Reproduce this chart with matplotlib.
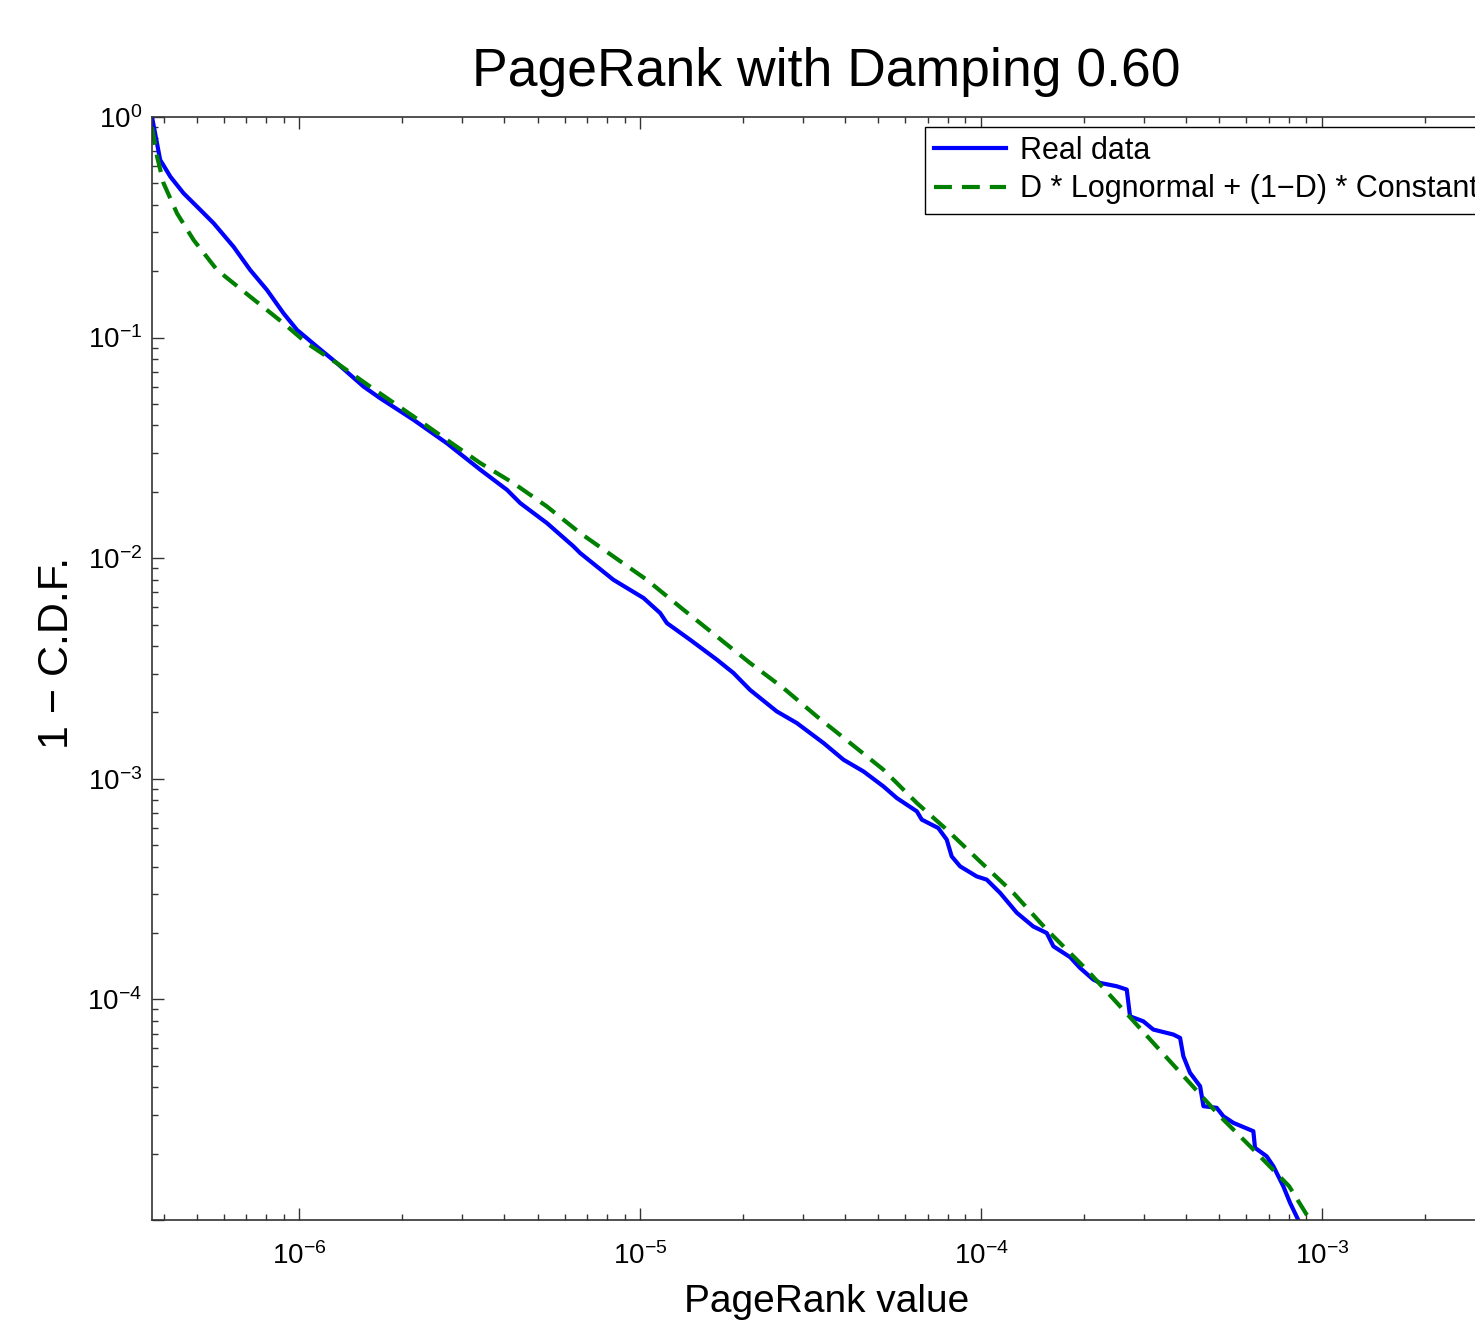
import matplotlib
matplotlib.use("Agg")
import matplotlib.pyplot as plt
import numpy as np

plt.rcParams['font.family'] = ['Liberation Sans', 'DejaVu Sans']
plt.rcParams['mathtext.fontset'] = 'custom'
plt.rcParams['mathtext.rm'] = 'Liberation Sans'
plt.rcParams['mathtext.it'] = 'Liberation Sans:italic'
plt.rcParams['mathtext.bf'] = 'Liberation Sans:bold'

# PageRank value (x) and 1 - CDF (y)
real_x = [3.70e-7, 3.91e-7, 4.19e-7, 4.58e-7, 5.13e-7, 5.61e-7, 6.42e-7, 7.18e-7,
          8.04e-7, 8.99e-7, 9.85e-7, 1.127e-6, 1.29e-6, 1.544e-6, 1.728e-6, 2.164e-6,
          2.71e-6, 3.40e-6, 4.07e-6, 4.45e-6, 5.33e-6, 6.38e-6, 6.67e-6, 8.35e-6,
          1.023e-5, 1.145e-5, 1.198e-5, 1.401e-5, 1.678e-5, 1.877e-5, 2.10e-5, 2.517e-5,
          2.88e-5, 3.45e-5, 3.95e-5, 4.52e-5, 5.17e-5, 5.66e-5, 6.48e-5, 6.70e-5,
          7.49e-5, 7.93e-5, 8.20e-5, 8.68e-5, 9.71e-5, 1.039e-4, 1.137e-4, 1.273e-4,
          1.423e-4, 1.558e-4, 1.630e-4, 1.824e-4, 1.951e-4, 2.135e-4, 2.234e-4, 2.50e-4,
          2.675e-4, 2.735e-4, 2.99e-4, 3.20e-4, 3.665e-4, 3.835e-4, 3.92e-4, 4.10e-4,
          4.39e-4, 4.49e-4, 4.91e-4, 5.135e-4, 5.495e-4, 6.29e-4, 6.36e-4, 6.88e-4,
          7.20e-4, 7.70e-4, 8.06e-4, 8.52e-4, 8.80e-4]
real_y = [1.0, 0.639, 0.536, 0.451, 0.379, 0.330, 0.258, 0.2026,
          0.1645, 0.129, 0.1084, 0.0910, 0.0766, 0.0600, 0.0531, 0.0424,
          0.0332, 0.02516, 0.0204, 0.01777, 0.01442, 0.01130, 0.01055, 0.00798,
          0.00660, 0.00564, 0.00508, 0.00427, 0.00347, 0.00302, 0.00253, 0.00202,
          0.00179, 0.001453, 0.00122, 0.00108, 0.000924, 0.000818, 0.000712, 0.000653,
          0.000598, 0.000530, 0.000445, 0.000401, 0.000361, 0.000349, 0.000304, 0.000247,
          0.000214, 0.000200, 0.000174, 0.0001555, 0.0001389, 0.0001229, 0.0001188, 0.0001147,
          0.0001108, 8.38e-5, 7.96e-5, 7.30e-5, 6.93e-5, 6.69e-5, 5.53e-5, 4.65e-5,
          4.04e-5, 3.28e-5, 3.225e-5, 2.955e-5, 2.757e-5, 2.526e-5, 2.124e-5, 1.945e-5,
          1.753e-5, 1.422e-5, 1.196e-5, 1.0e-5, 8.8e-6]

fit_x = [3.70e-7, 3.83e-7, 4.00e-7, 4.38e-7, 4.90e-7, 5.74e-7, 7.18e-7, 8.99e-7,
         1.053e-6, 1.29e-6, 1.614e-6, 2.164e-6, 2.71e-6, 3.40e-6, 4.25e-6, 5.33e-6,
         6.67e-6, 8.35e-6, 1.046e-5, 1.340e-5, 1.678e-5, 2.10e-5, 2.63e-5, 3.30e-5,
         4.13e-5, 5.17e-5, 6.48e-5, 7.93e-5, 9.93e-5, 1.244e-4, 1.558e-4, 2.04e-4,
         2.556e-4, 3.20e-4, 4.01e-4, 5.02e-4, 6.29e-4, 8.01e-4, 9.22e-4]
fit_y = [0.90, 0.661, 0.501, 0.366, 0.277, 0.2026, 0.1534, 0.1162,
         0.0943, 0.0766, 0.0600, 0.0439, 0.0344, 0.02697, 0.02189, 0.01715,
         0.0130, 0.01018, 0.00798, 0.00584, 0.00442, 0.00335, 0.00258, 0.001917,
         0.001453, 0.0011, 0.000777, 0.000588, 0.000422, 0.000304, 0.000207, 0.0001365,
         9.31e-5, 6.35e-5, 4.33e-5, 2.955e-5, 2.087e-5, 1.422e-5, 1.0e-5]

fig = plt.figure(figsize=(14.75, 13.24), dpi=100)
ax = fig.add_axes([152 / 1475, 104 / 1324, 1349 / 1475, 1103 / 1324])

ax.plot(real_x, real_y, color=(0, 0, 1), linewidth=3, label='Real data')
ax.plot(fit_x, fit_y, color=(0, 0.5, 0), linewidth=3, linestyle=(0, (4.3, 2.4)),
        label='D * Lognormal + (1\u2212D) * Constant')

ax.set_xscale('log')
ax.set_yscale('log')
ax.set_xlim(3.70e-7, 3.35e-3)
ax.set_ylim(1e-5, 1)
ax.set_xticks([1e-6, 1e-5, 1e-4, 1e-3])
ax.set_yticks([1e-5, 1e-4, 1e-3, 1e-2, 1e-1, 1])
ax.set_yticklabels(['', r'$10^{-4}$', r'$10^{-3}$', r'$10^{-2}$', r'$10^{-1}$', r'$10^{0}$'])
ax.set_xticklabels([r'$10^{-6}$', r'$10^{-5}$', r'$10^{-4}$', r'$10^{-3}$'])

ax.tick_params(which='both', direction='in', top=True, right=True, width=1, color='#333333')
ax.tick_params(which='major', length=8.5, labelsize=20, pad=16)
ax.tick_params(which='minor', length=4.5)
ax.tick_params(axis='y', which='major', pad=7)
for s in ax.spines.values():
    s.set_color('#333333')
    s.set_linewidth(1.2)

ax.set_title('PageRank with Damping 0.60', fontsize=38.5, pad=22)
ax.set_xlabel('PageRank value', fontsize=28, labelpad=10)
ax.set_ylabel('1 \u2212 C.D.F.', fontsize=31)
ax.yaxis.set_label_coords(-0.0555, 0.514)

leg = ax.legend(loc='upper left', bbox_to_anchor=(925 / 1475, 1 - 127 / 1324),
                bbox_transform=fig.transFigure, fontsize=22, handlelength=2.35,
                handletextpad=0.45, labelspacing=0.27, borderpad=0.3,
                fancybox=False, framealpha=1, borderaxespad=0)
leg.get_frame().set_edgecolor('black')
leg.get_frame().set_linewidth(1.0)

fig.savefig('out.png', dpi=100)
